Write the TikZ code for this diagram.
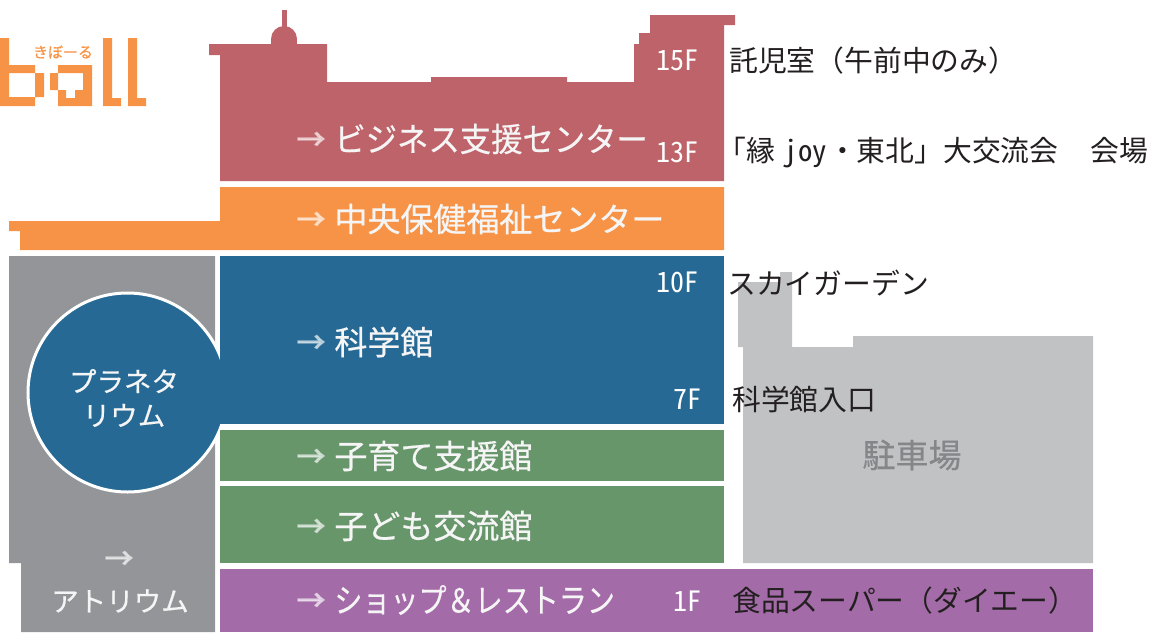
\documentclass[tikz,border=0pt]{standalone}
\usepackage{graphicx}
\usepackage{fontspec}
\usepackage{xcolor}
\usetikzlibrary{positioning}
\setmainfont{Noto Sans CJK JP}
\newfontfamily\halfwd[RawFeature=+hwid]{Noto Sans CJK JP}
\newfontfamily\bandfont[FakeBold=0.5]{Noto Sans CJK JP}
\newfontfamily\arrowfont[FakeBold=5]{Noto Sans CJK JP}
\definecolor{bizred}{HTML}{BE6369}
\definecolor{hokenorange}{HTML}{F79346}
\definecolor{kagakublue}{HTML}{266994}
\definecolor{kosodategreen}{HTML}{67966B}
\definecolor{shoppurple}{HTML}{A46BA9}
\definecolor{atriumgray}{HTML}{939598}
\definecolor{parkgray}{HTML}{C1C2C4}
\definecolor{parktext}{HTML}{85868A}
\definecolor{inktext}{HTML}{231F20}
\tikzset{
   bandtext/.style={text=white!96!black,inner sep=0pt,font=\bandfont\fontsize{33}{36}\selectfont},
   arrowmark/.style={text=white,opacity=0.5,inner sep=0pt,font=\arrowfont\fontsize{28}{34}\selectfont},
   sidetext/.style={text=inktext,anchor=west,inner sep=0pt,font=\fontsize{28.8}{32}\selectfont},
   floortext/.style={text=white,anchor=east,inner sep=0pt,font=\halfwd\fontsize{28}{32}\selectfont},
   roundtext/.style={text=white!96!black,inner sep=0pt,align=center,font=\bandfont\fontsize{27.5}{34}\selectfont},
   logopart/.style={fill=hokenorange,draw=none}
}
\begin{document}
\begin{tikzpicture}[x=1pt,y=-1pt]
   \useasboundingbox (0,0) rectangle (1158,632);

   % logo
   \fill[logopart] (0,38) -- (9,38) -- (9,65) -- (35,65) -- (35,73) -- (44,73) -- (44,97) -- (35,97)
      -- (35,106) -- (0,106) -- cycle (9,73) rectangle (35,97);
   \fill[logopart] (58,65) rectangle (92,73) (50,73) rectangle (58,90) (58,90) rectangle (66,98)
      (58,98) rectangle (83,106) (75,90) rectangle (83,98) (83,65) rectangle (92,106);
   \fill[logopart] (103,38) -- (112,38) -- (112,98) -- (121,98) -- (121,106) -- (103,106) -- cycle;
   \fill[logopart] (128,38) -- (137,38) -- (137,98) -- (146,98) -- (146,106) -- (128,106) -- cycle;
   \node[text=hokenorange,inner sep=0pt,name=kibooru,font=\bandfont\fontsize{15}{15}\selectfont] at (63,52) {きぼーる};

   % building
   \fill[bizred] (284,39) circle (13);
   \fill[bizred] (271,39) rectangle (297,44);
   \fill[bizred] (282,10) rectangle (287,30);
   \fill[bizred] (220,181) -- (220,55) -- (209,55) -- (209,44) -- (327,44) -- (327,82) -- (431,82)
      -- (431,77) -- (567,77) -- (567,82) -- (634,82) -- (634,44) -- (639,44) -- (639,33) -- (650,33)
      -- (650,15) -- (735,15) -- (735,25) -- (724,25) -- (724,181) -- cycle;
   \fill[hokenorange] (220,187) -- (724,187) -- (724,250) -- (20,250) -- (20,231) -- (9,231)
      -- (9,221) -- (220,221) -- cycle;
   \fill[atriumgray] (9,256) -- (215,256) -- (215,632) -- (21,632) -- (21,563) -- (9,563) -- cycle;
   \fill[parkgray] (738,282) -- (780,282) -- (780,272) -- (792,272) -- (792,347) -- (853,347) -- (853,336)
      -- (1093,336) -- (1093,563) -- (743,563) -- (743,347) -- (738,347) -- cycle;
   \draw[white,line width=3pt,fill=kagakublue] (127.5,392.5) circle (99.5);
   \fill[kagakublue] (220,256) rectangle (724,424);
   \fill[kosodategreen] (220,430) rectangle (724,481);
   \fill[kosodategreen] (220,486) rectangle (724,563);
   \fill[shoppurple] (220,569) rectangle (1093,632);

   % band labels
   \node[arrowmark,name=arrbiz] at (311,141) {→};
   \node[bandtext,name=biz,right=9pt of arrbiz,yshift=2pt] {\scalebox{0.95}[1]{ビジネス支援センター}};
   \node[arrowmark,name=arrhoken] at (311,221) {→};
   \node[bandtext,name=hoken,right=9pt of arrhoken,yshift=2pt] {中央保健福祉センター};
   \node[arrowmark,name=arrkagaku] at (311,344) {→};
   \node[bandtext,name=kagaku,right=9pt of arrkagaku,yshift=2pt] {科学館};
   \node[arrowmark,name=arrkosodate] at (311,458) {→};
   \node[bandtext,name=kosodate,right=9pt of arrkosodate,yshift=2pt] {子育て支援館};
   \node[arrowmark,name=arrkodomo] at (311,528) {→};
   \node[bandtext,name=kodomo,right=9pt of arrkodomo,yshift=2pt] {子ども交流館};
   \node[arrowmark,name=arrshop] at (311,602) {→};
   \node[bandtext,name=shop,right=9pt of arrshop,yshift=2pt] {\scalebox{0.85}[1]{ショップ＆レストラン}};
   \node[arrowmark,name=arratrium] at (119,560) {→};
   \node[roundtext,name=atrium] at (120,601) {アトリウム};
   \node[roundtext,name=planet] at (124,398) {プラネタ\\リウム};
   \node[bandtext,text=parktext,name=park] at (912,455) {駐車場};

   % floors
   \node[floortext,name=f15] at (699,60) {15F};
   \node[floortext,name=f13] at (699,152) {13F};
   \node[floortext,name=f10] at (699,282) {10F};
   \node[floortext,name=f7] at (702,399) {7F};
   \node[floortext,name=f1] at (702,601) {1F};

   % notes
   \node[sidetext,name=takuji] at (729,61) {託児室（午前中のみ）};
   \node[sidetext,name=enjoy] at (717,153) {「縁\hspace{9pt}{\halfwd joy}\hspace{1pt}・東北」大交流会　\hspace{3pt}会場};
   \node[sidetext,name=sky] at (727,283) {スカイガーデン};
   \node[sidetext,name=entrance] at (732,399) {科学館入口};
   \node[sidetext,name=super] at (732,601) {食品スーパー（ダイエー）};
\end{tikzpicture}
\end{document}
